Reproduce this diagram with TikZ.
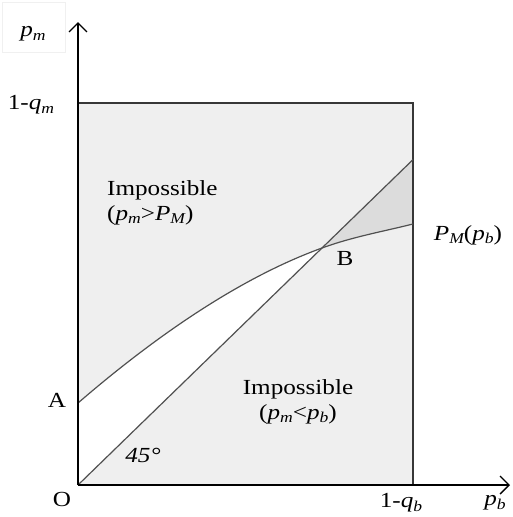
\documentclass[tikz,border=0pt]{standalone}
\usepackage{fontspec}
\setmainfont{Liberation Serif}[FakeStretch=1.17]
\usetikzlibrary{arrows.meta}
\definecolor{boxgray}{RGB}{239,239,239}
\definecolor{lensgray}{RGB}{220,220,220}
\definecolor{linegray}{RGB}{80,80,80}
\definecolor{edgegray}{RGB}{55,55,55}
\newcommand\ssub[1]{\raisebox{-0.35ex}{\fontsize{15}{15}\selectfont\itshape #1}}
\tikzset{
  lbl/.style={inner sep=0pt, font=\fontsize{21.5}{25}\selectfont},
  axis/.style={line width=1.4pt, black},
  curveline/.style={line width=1.2pt, linegray},
}
\begin{document}
\begin{tikzpicture}[x=1pt,y=-1pt]
\useasboundingbox (0,0) rectangle (512,517);
\fill[white] (0,0) rectangle (512,517);
% corner points
\coordinate (O) at (78,485);
\coordinate (TL) at (78,103);
\coordinate (TR) at (413,103);
\coordinate (BR) at (413,485);
\coordinate (A) at (78,403);
\coordinate (B) at (322,248);
\coordinate (E) at (413,224);
\coordinate (D) at (413,159.6);
\coordinate (Ytip) at (78,22);
\coordinate (Xtip) at (510,485);
% faint label frame
\draw[gray!12, line width=0.8pt] (2,2) rectangle (65,52);
% fills
\fill[boxgray] (O) rectangle (TR);
\fill[white] (O) -- (B) .. controls (242,277) and (158,334) .. (A) -- cycle;
\fill[lensgray] (B) -- (D) -- (E) .. controls (383,231.5) and (352,237) .. (B) -- cycle;
% box edges
\draw[edgegray, line width=1.4pt] (TL) -- (TR) -- (BR);
% diagonal and curve
\draw[curveline] (O) -- (D);
\draw[curveline] (A) .. controls (158,334) and (242,277) .. (B)
  .. controls (352,237) and (383,231.5) .. (E);
% axes
\draw[axis, -{Straight Barb[length=9pt,width=18pt,line width=1.4pt]}] (O) -- (Ytip);
\draw[axis, -{Straight Barb[length=9pt,width=18pt,line width=1.4pt]}] (O) -- (Xtip);
% labels
\node[lbl] (lpm) at (33,34) {\textit{p}\ssub{m}};
\node[lbl] (lqm) at (31,105) {1-\textit{q}\ssub{m}};
\node[lbl, anchor=north west, align=left] (imp1) at (107,180)
  {Impossible\\(\textit{p}\ssub{m}>\textit{P}\ssub{M})};
\node[lbl] (lPM) at (468,235) {\textit{P}\ssub{M}(\textit{p}\ssub{b})};
\node[lbl] (lB) at (345,258) {B};
\node[lbl] (lA) at (57,400) {A};
\node[lbl] (l45) at (143,455) {\textit{45°}};
\node[lbl] (lO) at (62,499) {O};
\node[lbl, anchor=north, align=center] (imp2) at (298,379)
  {Impossible\\(\textit{p}\ssub{m}<\textit{p}\ssub{b})};
\node[lbl] (lqb) at (401,503) {1-\textit{q}\ssub{b}};
\node[lbl] (lpb) at (495,503) {\textit{p}\ssub{b}};
\end{tikzpicture}
\end{document}
